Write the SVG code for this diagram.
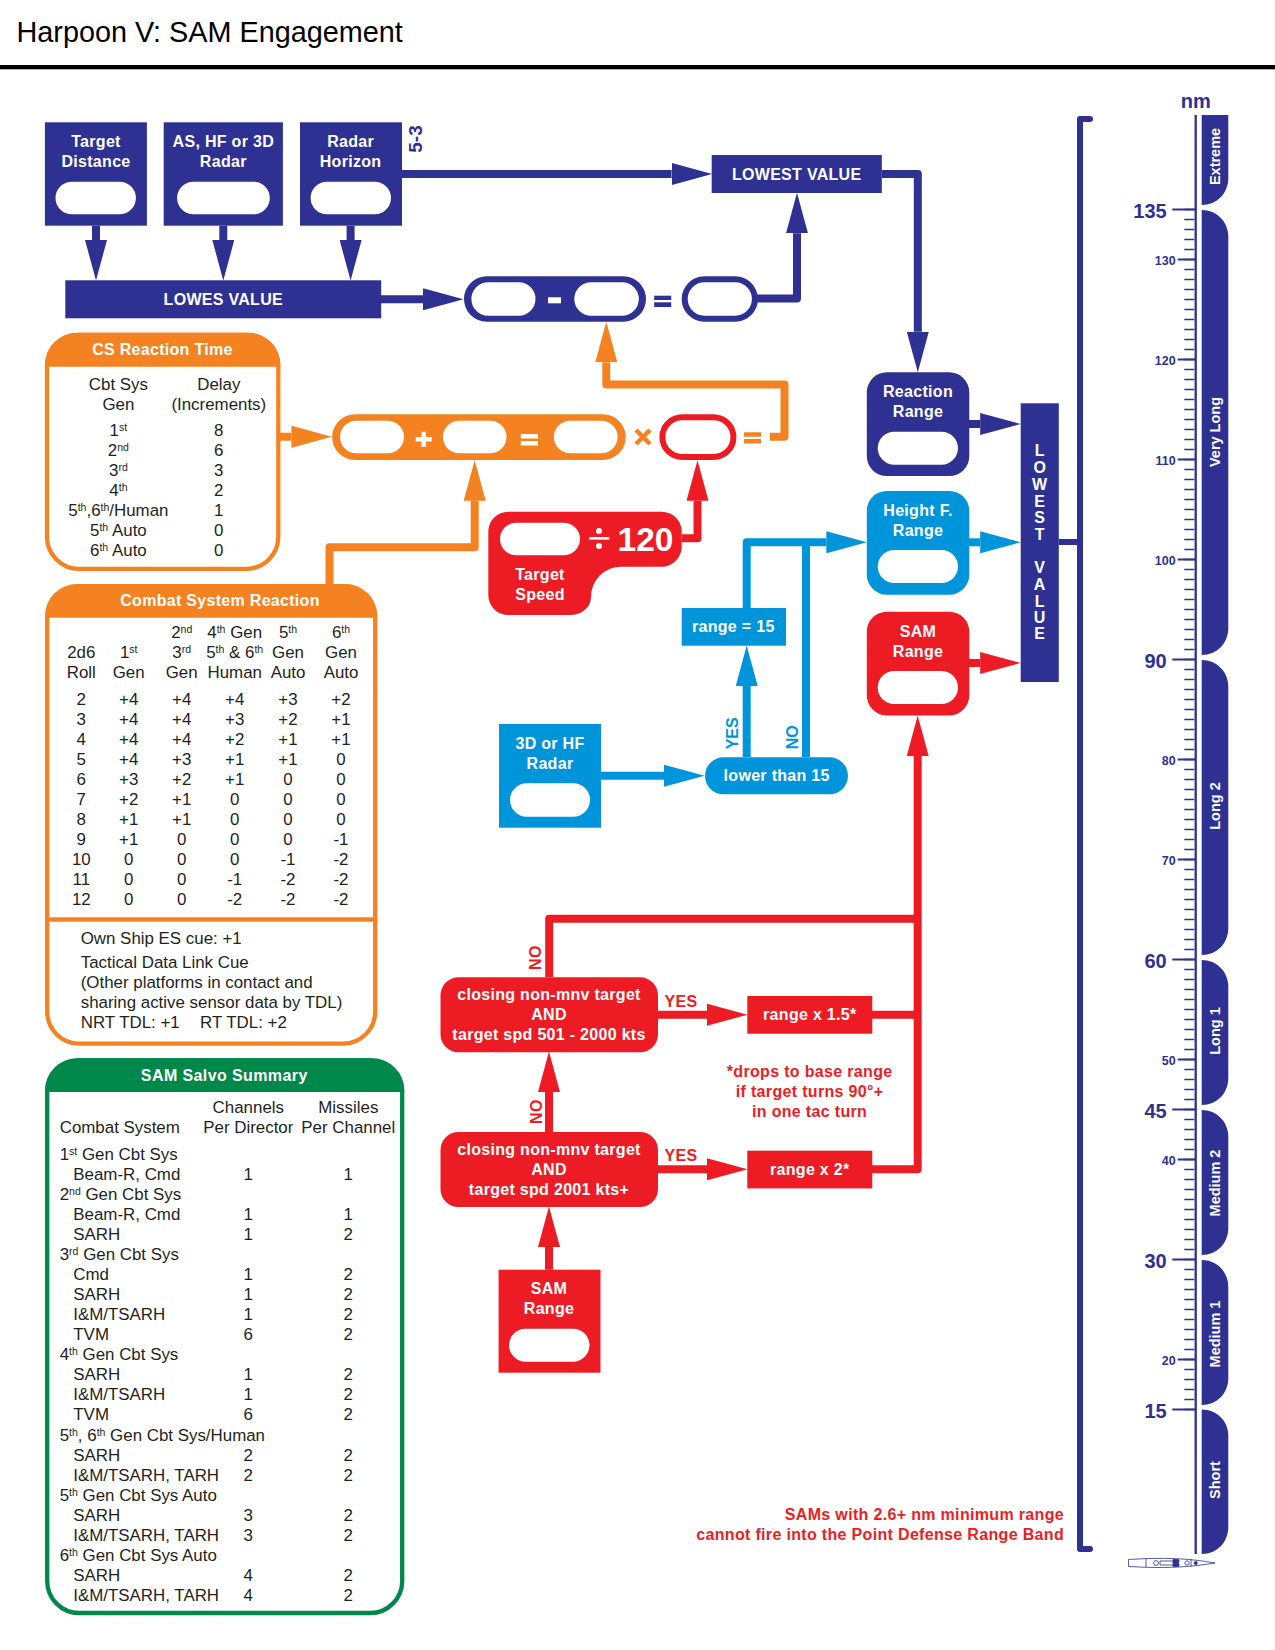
<svg xmlns="http://www.w3.org/2000/svg" width="1275" height="1650" viewBox="0 0 1275 1650">
<style>
text{font-family:"Liberation Sans",Arial,sans-serif;font-size:16.9px;fill:#231f20}
.w{fill:#fff;font-size:16px;font-weight:700;text-anchor:middle;letter-spacing:.3px}
.m{text-anchor:middle}
.s{font-size:10.5px;baseline-shift:5px}
.navy{fill:#2e3192}.org{fill:#f58220}.red{fill:#ed1c24}.blue{fill:#0095da}.grn{fill:#00874a}
.hole{fill:#fff}
.ln{fill:none;stroke-width:8;stroke-linejoin:round}
.ln.n{stroke:#2e3192}.ln.o{stroke:#f58220}.ln.r{stroke:#ed1c24}.ln.b{stroke:#0095da}
.tn{fill:#2e3192;font-weight:700;font-size:16px}.tr{fill:#ed1c24;font-weight:700;font-size:16px;letter-spacing:.33px}.tb{fill:#0095da;font-weight:700;font-size:16px}
.band{fill:#fff;font-weight:700;font-size:14.5px;text-anchor:middle}
.big{fill:#2e3192;font-weight:700;font-size:20px;text-anchor:end}
.sm{fill:#2e3192;font-weight:700;font-size:12.5px;text-anchor:end}
</style>
<defs>
<marker id="hn" markerUnits="userSpaceOnUse" markerWidth="41" markerHeight="22" refX="0" refY="11" orient="auto"><path d="M0,0L40.5,11L0,22z" fill="#2e3192"/></marker>
<marker id="ho" markerUnits="userSpaceOnUse" markerWidth="41" markerHeight="22" refX="0" refY="11" orient="auto"><path d="M0,0L40.5,11L0,22z" fill="#f58220"/></marker>
<marker id="hr" markerUnits="userSpaceOnUse" markerWidth="41" markerHeight="22" refX="0" refY="11" orient="auto"><path d="M0,0L40.5,11L0,22z" fill="#ed1c24"/></marker>
<marker id="hb" markerUnits="userSpaceOnUse" markerWidth="41" markerHeight="22" refX="0" refY="11" orient="auto"><path d="M0,0L40.5,11L0,22z" fill="#0095da"/></marker>
</defs>
<rect width="1275" height="1650" fill="#fff"/>
<g id="title">
<text x="16.5" y="41.7" style="font-size:28.8px;fill:#000">Harpoon V: SAM Engagement</text>
<rect x="0" y="65" width="1275" height="4.3" fill="#000"/>
</g>

<g id="connectors">
<g class="ln n">
<path d="M96,225.7V240" marker-end="url(#hn)"/>
<path d="M223.3,225.7V240" marker-end="url(#hn)"/>
<path d="M350.6,225.7V240" marker-end="url(#hn)"/>
<path d="M381,299.3H423" marker-end="url(#hn)"/>
<path d="M402,174H671.6" marker-end="url(#hn)"/>
<path d="M757,298.5H797V233.3" marker-end="url(#hn)"/>
<path d="M881.8,174H917.8V331.7" marker-end="url(#hn)"/>
<path d="M969,424H980.2" marker-end="url(#hn)"/>
<path d="M1058.8,542H1080" style="stroke-width:6"/>
<path d="M1090,119H1080V1549H1090" style="stroke-width:6;stroke-linecap:round"/>
</g>
<g class="ln o">
<path d="M280,436.7H291.4" marker-end="url(#ho)"/>
<path d="M329.5,585V547.3H474.7V500.7" marker-end="url(#ho)"/>
<path d="M770,436.8H784.5V384.5H606.3V362.3" marker-end="url(#ho)"/>
</g>
<g class="ln r">
<path d="M681.7,538.3H697.5V500.7" marker-end="url(#hr)"/>
<path d="M549.2,977V918.7H917.7"/>
<path d="M872,1014.7H917.7"/>
<path d="M872,1169.3H917.7V756" marker-end="url(#hr)"/>
<path d="M658,1014.7H707" marker-end="url(#hr)"/>
<path d="M658,1169.3H707" marker-end="url(#hr)"/>
<path d="M549,1132V1092" marker-end="url(#hr)"/>
<path d="M549,1269.7V1247" marker-end="url(#hr)"/>
<path d="M969,663H980.2" marker-end="url(#hr)"/>
</g>
<g class="ln b">
<path d="M746.7,757V686" marker-end="url(#hb)"/>
<path d="M746.7,608V542.3H826.3" marker-end="url(#hb)"/>
<path d="M806,757V542.3"/>
<path d="M601,775.7H664" marker-end="url(#hb)"/>
<path d="M969,542.3H980.2" marker-end="url(#hb)"/>
</g>
</g>

<g id="target-distance">
<rect class="navy" x="44.9" y="122.3" width="102" height="103.4"/>
<text class="w" x="96" y="147.3">Target</text><text class="w" x="96" y="167.3">Distance</text>
<rect class="hole" x="55.5" y="181.7" width="80.4" height="32.6" rx="16.3"/>
</g>
<g id="as-hf-radar">
<rect class="navy" x="163.7" y="122.3" width="119.2" height="103.4"/>
<text class="w" x="223.3" y="147.3">AS, HF or 3D</text><text class="w" x="223.3" y="167.3">Radar</text>
<rect class="hole" x="177.1" y="181.7" width="92.7" height="32.6" rx="16.3"/>
</g>
<g id="radar-horizon">
<rect class="navy" x="300" y="122.3" width="102" height="103.4"/>
<text class="w" x="350.6" y="147.3">Radar</text><text class="w" x="350.6" y="167.3">Horizon</text>
<rect class="hole" x="310.6" y="181.7" width="80.4" height="32.6" rx="16.3"/>
<text class="tn" transform="translate(421.6 152.7) rotate(-90)" style="font-size:19px">5-3</text>
</g>
<g id="lowes-value">
<rect class="navy" x="65.3" y="280.3" width="315.9" height="38"/>
<text class="w" x="223.3" y="305">LOWES VALUE</text>
</g>
<g id="lowest-value-top">
<rect class="navy" x="711.7" y="155" width="170.1" height="38"/>
<text class="w" x="796.7" y="180">LOWEST VALUE</text>
</g>
<g id="subtract-pill">
<rect class="navy" x="464" y="276.3" width="182" height="45.4" rx="22.7"/>
<rect class="hole" x="471.4" y="282.3" width="64.1" height="33.4" rx="16.7"/>
<rect class="hole" x="574.3" y="282.3" width="64.5" height="33.4" rx="16.7"/>
<rect class="hole" x="548" y="297.3" width="13" height="6"/>
</g>
<g id="subtract-equals">
<rect class="navy" x="654.2" y="295.7" width="17" height="4.3"/>
<rect class="navy" x="654.2" y="302.3" width="17" height="4.7"/>
</g>
<g id="result-pill">
<rect x="684.7" y="279.3" width="70.2" height="39.4" rx="19.7" fill="#fff" stroke="#2e3192" stroke-width="6"/>
</g>

<g id="cs-reaction-time">
<rect x="47" y="334.8" width="231.3" height="234" rx="32" fill="#fff" stroke="#f58220" stroke-width="4.3"/>
<path class="org" d="M44.9,366.7V364.7A32,32 0 0 1 76.9,332.7H248.4A32,32 0 0 1 280.4,364.7V366.7z"/>
<text class="w" x="162.4" y="355">CS Reaction Time</text>
<text class="m" x="118.4" y="389.7">Cbt Sys</text><text class="m" x="118.4" y="409.7">Gen</text>
<text class="m" x="218.8" y="389.7">Delay</text><text class="m" x="218.8" y="409.7">(Increments)</text>
<text class="m" x="118.4" y="435.7">1<tspan class="s">st</tspan></text><text class="m" x="218.8" y="435.7">8</text>
<text class="m" x="118.4" y="455.7">2<tspan class="s">nd</tspan></text><text class="m" x="218.8" y="455.7">6</text>
<text class="m" x="118.4" y="475.7">3<tspan class="s">rd</tspan></text><text class="m" x="218.8" y="475.7">3</text>
<text class="m" x="118.4" y="495.7">4<tspan class="s">th</tspan></text><text class="m" x="218.8" y="495.7">2</text>
<text class="m" x="118.4" y="515.7">5<tspan class="s">th</tspan>,6<tspan class="s">th</tspan>/Human</text><text class="m" x="218.8" y="515.7">1</text>
<text class="m" x="118.4" y="535.7">5<tspan class="s">th</tspan> Auto</text><text class="m" x="218.8" y="535.7">0</text>
<text class="m" x="118.4" y="555.7">6<tspan class="s">th</tspan> Auto</text><text class="m" x="218.8" y="555.7">0</text>
</g>

<g id="sum-pill">
<rect class="org" x="332.2" y="414.3" width="293.5" height="45.7" rx="22.8"/>
<rect class="hole" x="340" y="420.7" width="64" height="32.6" rx="16.3"/>
<rect class="hole" x="442.9" y="420.7" width="63.6" height="32.6" rx="16.3"/>
<rect class="hole" x="553.9" y="420.7" width="63.7" height="32.6" rx="16.3"/>
<path d="M415.7,439.3h16M423.7,431.8v15" stroke="#fff" stroke-width="4.4" fill="none"/>
<path d="M520.8,436.2h17.2M520.8,443.2h17.2" stroke="#fff" stroke-width="4.4" fill="none"/>
</g>
<g id="times-sign"><path d="M636,430L650,444M650,430L636,444" stroke="#f58220" stroke-width="4.5" fill="none"/></g>
<g id="speed-pill">
<rect x="662.4" y="417.3" width="71" height="39.7" rx="19.8" fill="#fff" stroke="#ed1c24" stroke-width="6"/>
</g>
<g id="orange-equals">
<path d="M744,434.5h17M744,441.2h17" stroke="#f58220" stroke-width="4.4" fill="none"/>
</g>

<g id="target-speed">
<path class="red" d="M508.3,511.7H661.7A20,20 0 0 1 681.7,531.7V546.7A20,20 0 0 1 661.7,566.7H621A30,30 0 0 0 591,596.7A20,18 0 0 1 571,615H508.3A20,20 0 0 1 488.3,595V531.7A20,20 0 0 1 508.3,511.7z"/>
<rect class="hole" x="500" y="522.7" width="80" height="32.6" rx="16.3"/>
<path d="M589,538.3h20.3" stroke="#fff" stroke-width="2.6" fill="none"/>
<circle class="hole" cx="599" cy="531" r="3"/><circle class="hole" cx="599" cy="546" r="3"/>
<text class="w" x="645.5" y="550.7" style="font-size:33.5px;letter-spacing:0">120</text>
<text class="w" x="540" y="580">Target</text><text class="w" x="540" y="599.5">Speed</text>
</g>

<g id="combat-system-reaction">
<rect x="47.2" y="586.2" width="328" height="457.4" rx="32" fill="#fff" stroke="#f58220" stroke-width="4.3"/>
<path class="org" d="M45,617.7V616A32,32 0 0 1 77,584H345.3A32,32 0 0 1 377.3,616V617.7z"/>
<rect class="org" x="45" y="917.3" width="332.3" height="4.4"/>
<text class="w" x="220" y="605.7">Combat System Reaction</text>
<text class="m" x="181.7" y="638">2<tspan class="s">nd</tspan></text><text class="m" x="234.7" y="638">4<tspan class="s">th</tspan> Gen</text><text class="m" x="288" y="638">5<tspan class="s">th</tspan></text><text class="m" x="341" y="638">6<tspan class="s">th</tspan></text>
<text class="m" x="81.3" y="658">2d6</text><text class="m" x="128.7" y="658">1<tspan class="s">st</tspan></text><text class="m" x="181.7" y="658">3<tspan class="s">rd</tspan></text><text class="m" x="234.7" y="658">5<tspan class="s">th</tspan> &amp; 6<tspan class="s">th</tspan></text><text class="m" x="288" y="658">Gen</text><text class="m" x="341" y="658">Gen</text>
<text class="m" x="81.3" y="678">Roll</text><text class="m" x="128.7" y="678">Gen</text><text class="m" x="181.7" y="678">Gen</text><text class="m" x="234.7" y="678">Human</text><text class="m" x="288" y="678">Auto</text><text class="m" x="341" y="678">Auto</text>
<text class="m" x="81.3" y="705">2</text><text class="m" x="128.7" y="705">+4</text><text class="m" x="181.7" y="705">+4</text><text class="m" x="234.7" y="705">+4</text><text class="m" x="288" y="705">+3</text><text class="m" x="341" y="705">+2</text>
<text class="m" x="81.3" y="725">3</text><text class="m" x="128.7" y="725">+4</text><text class="m" x="181.7" y="725">+4</text><text class="m" x="234.7" y="725">+3</text><text class="m" x="288" y="725">+2</text><text class="m" x="341" y="725">+1</text>
<text class="m" x="81.3" y="745">4</text><text class="m" x="128.7" y="745">+4</text><text class="m" x="181.7" y="745">+4</text><text class="m" x="234.7" y="745">+2</text><text class="m" x="288" y="745">+1</text><text class="m" x="341" y="745">+1</text>
<text class="m" x="81.3" y="765">5</text><text class="m" x="128.7" y="765">+4</text><text class="m" x="181.7" y="765">+3</text><text class="m" x="234.7" y="765">+1</text><text class="m" x="288" y="765">+1</text><text class="m" x="341" y="765">0</text>
<text class="m" x="81.3" y="785">6</text><text class="m" x="128.7" y="785">+3</text><text class="m" x="181.7" y="785">+2</text><text class="m" x="234.7" y="785">+1</text><text class="m" x="288" y="785">0</text><text class="m" x="341" y="785">0</text>
<text class="m" x="81.3" y="805">7</text><text class="m" x="128.7" y="805">+2</text><text class="m" x="181.7" y="805">+1</text><text class="m" x="234.7" y="805">0</text><text class="m" x="288" y="805">0</text><text class="m" x="341" y="805">0</text>
<text class="m" x="81.3" y="825">8</text><text class="m" x="128.7" y="825">+1</text><text class="m" x="181.7" y="825">+1</text><text class="m" x="234.7" y="825">0</text><text class="m" x="288" y="825">0</text><text class="m" x="341" y="825">0</text>
<text class="m" x="81.3" y="845">9</text><text class="m" x="128.7" y="845">+1</text><text class="m" x="181.7" y="845">0</text><text class="m" x="234.7" y="845">0</text><text class="m" x="288" y="845">0</text><text class="m" x="341" y="845">-1</text>
<text class="m" x="81.3" y="865">10</text><text class="m" x="128.7" y="865">0</text><text class="m" x="181.7" y="865">0</text><text class="m" x="234.7" y="865">0</text><text class="m" x="288" y="865">-1</text><text class="m" x="341" y="865">-2</text>
<text class="m" x="81.3" y="885">11</text><text class="m" x="128.7" y="885">0</text><text class="m" x="181.7" y="885">0</text><text class="m" x="234.7" y="885">-1</text><text class="m" x="288" y="885">-2</text><text class="m" x="341" y="885">-2</text>
<text class="m" x="81.3" y="905">12</text><text class="m" x="128.7" y="905">0</text><text class="m" x="181.7" y="905">0</text><text class="m" x="234.7" y="905">-2</text><text class="m" x="288" y="905">-2</text><text class="m" x="341" y="905">-2</text>
<text x="80.7" y="944">Own Ship ES cue: +1</text>
<text x="80.7" y="968">Tactical Data Link Cue</text>
<text x="80.7" y="988">(Other platforms in contact and</text>
<text x="80.7" y="1008">sharing active sensor data by TDL)</text>
<text x="80.7" y="1028">NRT TDL: +1</text><text x="200" y="1028">RT TDL: +2</text>
</g>

<g id="sam-salvo-summary">
<rect x="47.2" y="1060.5" width="355" height="552.5" rx="32" fill="#fff" stroke="#00874a" stroke-width="4.3"/>
<path class="grn" d="M45,1092V1090.3A32,32 0 0 1 77,1058.3H372.3A32,32 0 0 1 404.3,1090.3V1092z"/>
<text class="w" x="224.3" y="1080.6" style="letter-spacing:.4px">SAM Salvo Summary</text>
<text class="m" x="248.3" y="1113">Channels</text><text class="m" x="348.3" y="1113">Missiles</text>
<text x="59.7" y="1133">Combat System</text><text class="m" x="248.3" y="1133">Per Director</text><text class="m" x="348.3" y="1133">Per Channel</text>
<text x="59.7" y="1159.8">1<tspan class="s">st</tspan> Gen Cbt Sys</text>
<text x="73.3" y="1179.85">Beam-R, Cmd</text><text class="m" x="248.3" y="1179.85">1</text><text class="m" x="348.3" y="1179.85">1</text>
<text x="59.7" y="1199.9">2<tspan class="s">nd</tspan> Gen Cbt Sys</text>
<text x="73.3" y="1219.95">Beam-R, Cmd</text><text class="m" x="248.3" y="1219.95">1</text><text class="m" x="348.3" y="1219.95">1</text>
<text x="73.3" y="1240">SARH</text><text class="m" x="248.3" y="1240">1</text><text class="m" x="348.3" y="1240">2</text>
<text x="59.7" y="1260.05">3<tspan class="s">rd</tspan> Gen Cbt Sys</text>
<text x="73.3" y="1280.1">Cmd</text><text class="m" x="248.3" y="1280.1">1</text><text class="m" x="348.3" y="1280.1">2</text>
<text x="73.3" y="1300.15">SARH</text><text class="m" x="248.3" y="1300.15">1</text><text class="m" x="348.3" y="1300.15">2</text>
<text x="73.3" y="1320.2">I&amp;M/TSARH</text><text class="m" x="248.3" y="1320.2">1</text><text class="m" x="348.3" y="1320.2">2</text>
<text x="73.3" y="1340.25">TVM</text><text class="m" x="248.3" y="1340.25">6</text><text class="m" x="348.3" y="1340.25">2</text>
<text x="59.7" y="1360.3">4<tspan class="s">th</tspan> Gen Cbt Sys</text>
<text x="73.3" y="1380.35">SARH</text><text class="m" x="248.3" y="1380.35">1</text><text class="m" x="348.3" y="1380.35">2</text>
<text x="73.3" y="1400.4">I&amp;M/TSARH</text><text class="m" x="248.3" y="1400.4">1</text><text class="m" x="348.3" y="1400.4">2</text>
<text x="73.3" y="1420.45">TVM</text><text class="m" x="248.3" y="1420.45">6</text><text class="m" x="348.3" y="1420.45">2</text>
<text x="59.7" y="1440.5">5<tspan class="s">th</tspan>, 6<tspan class="s">th</tspan> Gen Cbt Sys/Human</text>
<text x="73.3" y="1460.55">SARH</text><text class="m" x="248.3" y="1460.55">2</text><text class="m" x="348.3" y="1460.55">2</text>
<text x="73.3" y="1480.6">I&amp;M/TSARH, TARH</text><text class="m" x="248.3" y="1480.6">2</text><text class="m" x="348.3" y="1480.6">2</text>
<text x="59.7" y="1500.65">5<tspan class="s">th</tspan> Gen Cbt Sys Auto</text>
<text x="73.3" y="1520.7">SARH</text><text class="m" x="248.3" y="1520.7">3</text><text class="m" x="348.3" y="1520.7">2</text>
<text x="73.3" y="1540.75">I&amp;M/TSARH, TARH</text><text class="m" x="248.3" y="1540.75">3</text><text class="m" x="348.3" y="1540.75">2</text>
<text x="59.7" y="1560.8">6<tspan class="s">th</tspan> Gen Cbt Sys Auto</text>
<text x="73.3" y="1580.85">SARH</text><text class="m" x="248.3" y="1580.85">4</text><text class="m" x="348.3" y="1580.85">2</text>
<text x="73.3" y="1600.9">I&amp;M/TSARH, TARH</text><text class="m" x="248.3" y="1600.9">4</text><text class="m" x="348.3" y="1600.9">2</text>
</g>

<g id="reaction-range">
<rect class="navy" x="866.8" y="372.3" width="102.5" height="103.7" rx="20"/>
<text class="w" x="918" y="397.3">Reaction</text><text class="w" x="918" y="417.3">Range</text>
<rect class="hole" x="877.7" y="431.7" width="80.3" height="33" rx="16.5"/>
</g>
<g id="height-f-range">
<rect class="blue" x="866.8" y="491" width="102.5" height="103.7" rx="20"/>
<text class="w" x="918" y="516">Height F.</text><text class="w" x="918" y="536">Range</text>
<rect class="hole" x="877.7" y="550" width="80.3" height="33" rx="16.5"/>
</g>
<g id="sam-range-top">
<rect class="red" x="866.8" y="611.7" width="102.5" height="103.7" rx="20"/>
<text class="w" x="918" y="636.7">SAM</text><text class="w" x="918" y="656.7">Range</text>
<rect class="hole" x="877.7" y="671" width="80.3" height="33" rx="16.5"/>
</g>
<g id="lowest-value-side">
<rect class="navy" x="1020.7" y="403.3" width="38.1" height="278.7"/>
<text class="w" x="1039.8" y="456">L</text><text class="w" x="1039.8" y="473">O</text><text class="w" x="1039.8" y="490">W</text><text class="w" x="1039.8" y="506.5">E</text><text class="w" x="1039.8" y="523">S</text><text class="w" x="1039.8" y="540">T</text>
<text class="w" x="1039.8" y="573">V</text><text class="w" x="1039.8" y="590">A</text><text class="w" x="1039.8" y="606.5">L</text><text class="w" x="1039.8" y="622.5">U</text><text class="w" x="1039.8" y="638.5">E</text>
</g>

<g id="range-15">
<rect class="blue" x="681.7" y="608" width="104.3" height="37.7"/>
<text class="w" x="733.3" y="632">range = 15</text>
</g>
<g id="lower-than-15">
<rect class="blue" x="705" y="757.3" width="143" height="37" rx="18.5"/>
<text class="w" x="776.7" y="781">lower than 15</text>
<text class="tb" transform="translate(738.3 749.3) rotate(-90)">YES</text>
<text class="tb" transform="translate(798.3 749.3) rotate(-90)">NO</text>
</g>
<g id="radar-3d-hf">
<rect class="blue" x="499" y="724" width="102" height="103.7"/>
<text class="w" x="550" y="749">3D or HF</text><text class="w" x="550" y="769">Radar</text>
<rect class="hole" x="510" y="783.3" width="80" height="33.4" rx="16.7"/>
</g>

<g id="decision-1">
<rect class="red" x="440.5" y="977.3" width="217.5" height="75" rx="18"/>
<text class="w" x="549" y="1000">closing non-mnv target</text><text class="w" x="549" y="1020">AND</text><text class="w" x="549" y="1040">target spd 501 - 2000 kts</text>
<text class="tr" transform="translate(541 970) rotate(-90)">NO</text>
<text class="tr m" x="681" y="1006.7">YES</text>
</g>
<g id="decision-2">
<rect class="red" x="440.5" y="1132" width="217.5" height="75" rx="18"/>
<text class="w" x="549" y="1155">closing non-mnv target</text><text class="w" x="549" y="1175">AND</text><text class="w" x="549" y="1195">target spd 2001 kts+</text>
<text class="tr" transform="translate(541.5 1124) rotate(-90)">NO</text>
<text class="tr m" x="681" y="1161">YES</text>
</g>
<g id="range-x-15">
<rect class="red" x="747.3" y="996" width="125" height="37.7"/>
<text class="w" x="809.8" y="1020">range x 1.5*</text>
</g>
<g id="range-x-2">
<rect class="red" x="747.3" y="1150.7" width="125" height="37.7"/>
<text class="w" x="809.8" y="1175">range x 2*</text>
</g>
<g id="note-drops">
<text class="tr m" x="809.6" y="1076.7">*drops to base range</text>
<text class="tr m" x="809.6" y="1096.7">if target turns 90°+</text>
<text class="tr m" x="809.6" y="1116.7">in one tac turn</text>
</g>
<g id="sam-range-bottom">
<rect class="red" x="498.6" y="1269.7" width="101.9" height="103"/>
<text class="w" x="549" y="1294">SAM</text><text class="w" x="549" y="1314">Range</text>
<rect class="hole" x="509" y="1328.7" width="80.5" height="33" rx="16.5"/>
</g>
<g id="note-sams">
<text class="tr" x="1064" y="1520" text-anchor="end">SAMs with 2.6+ nm minimum range</text>
<text class="tr" x="1064" y="1540" text-anchor="end">cannot fire into the Point Defense Range Band</text>
</g>

<g id="range-scale">
<text class="tn m" x="1195.7" y="108" style="font-size:20px">nm</text>
<path d="M1195.7,115V1554" stroke="#2e3192" stroke-width="2.3" fill="none"/>
<path d="M1189.3,208.65V1411" stroke="#2e3192" stroke-width="10" stroke-dasharray="1.7 8.3" fill="none"/>
<path d="M1172.3,209.5H1195M1172.3,659.5H1195M1172.3,959.5H1195M1172.3,1109.5H1195M1172.3,1259.5H1195M1172.3,1409.5H1195" stroke="#2e3192" stroke-width="1.8" fill="none"/>
<path d="M1177.7,259.5H1195M1177.7,359.5H1195M1177.7,459.5H1195M1177.7,559.5H1195M1177.7,759.5H1195M1177.7,859.5H1195M1177.7,1059.5H1195M1177.7,1159.5H1195M1177.7,1359.5H1195" stroke="#2e3192" stroke-width="1.8" fill="none"/>
<text class="big" x="1166.7" y="217.5">135</text><text class="big" x="1166.7" y="667.5">90</text><text class="big" x="1166.7" y="967.5">60</text><text class="big" x="1166.7" y="1117.5">45</text><text class="big" x="1166.7" y="1267.5">30</text><text class="big" x="1166.7" y="1417.5">15</text>
<text class="sm" x="1175.7" y="265">130</text><text class="sm" x="1175.7" y="365">120</text><text class="sm" x="1175.7" y="465">110</text><text class="sm" x="1175.7" y="565">100</text><text class="sm" x="1175.7" y="765">80</text><text class="sm" x="1175.7" y="865">70</text><text class="sm" x="1175.7" y="1065">50</text><text class="sm" x="1175.7" y="1165">40</text><text class="sm" x="1175.7" y="1365">20</text>
<path class="navy" d="M1201.7,115H1228.3V178C1228.3,193 1217,205 1201.7,205z"/>
<path class="navy" d="M1201.7,210C1217,210 1228.3,222 1228.3,237V628C1228.3,643 1217,655 1201.7,655z"/>
<path class="navy" d="M1201.7,660C1217,660 1228.3,672 1228.3,687V928C1228.3,943 1217,955 1201.7,955z"/>
<path class="navy" d="M1201.7,960C1217,960 1228.3,972 1228.3,987V1078C1228.3,1093 1217,1105 1201.7,1105z"/>
<path class="navy" d="M1201.7,1110C1217,1110 1228.3,1122 1228.3,1137V1228C1228.3,1243 1217,1255 1201.7,1255z"/>
<path class="navy" d="M1201.7,1260C1217,1260 1228.3,1272 1228.3,1287V1378C1228.3,1393 1217,1405 1201.7,1405z"/>
<path class="navy" d="M1201.7,1409.5C1217,1409.5 1228.3,1421 1228.3,1436V1527C1228.3,1542 1217,1554 1201.7,1554z"/>
<text class="band" transform="translate(1220 156.5) rotate(-90)">Extreme</text>
<text class="band" transform="translate(1220 432) rotate(-90)">Very Long</text>
<text class="band" transform="translate(1220 806) rotate(-90)">Long 2</text>
<text class="band" transform="translate(1220 1031) rotate(-90)">Long 1</text>
<text class="band" transform="translate(1220 1183) rotate(-90)">Medium 2</text>
<text class="band" transform="translate(1220 1334) rotate(-90)">Medium 1</text>
<text class="band" transform="translate(1220 1480) rotate(-90)">Short</text>
</g>
<g id="ship" fill="none" stroke="#2e3192" stroke-width=".8">
<path d="M1128.5,1559.5L1146,1558.6C1170,1558 1190,1558.5 1215,1563C1190,1567 1170,1568 1146,1567.3L1128.5,1566.5z"/>
<path d="M1146,1558.8V1567M1180,1561H1160V1565H1180M1191,1558.8V1567"/>
<circle cx="1156" cy="1563" r="2.4"/><circle cx="1187" cy="1563" r="2.2"/>
<path d="M1173,1559.5h5.5v7h-5.5z" fill="#2e3192"/>
<circle cx="1195.7" cy="1563" r="1.6" fill="#2e3192"/>
</g>
</svg>
